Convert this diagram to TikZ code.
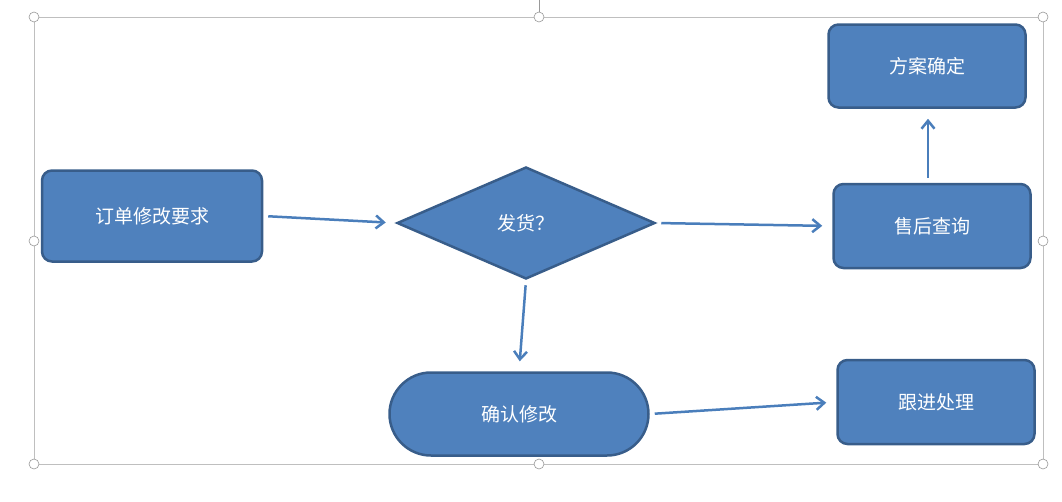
\documentclass[tikz,border=0pt]{standalone}
\usepackage{fontspec}
\setmainfont{Noto Sans CJK SC}
\usetikzlibrary{shapes.geometric,shapes.misc,arrows.meta}
\definecolor{boxfill}{RGB}{79,129,189}
\definecolor{boxline}{RGB}{56,93,138}
\definecolor{arrowblue}{RGB}{74,126,187}
\tikzset{
  flowbox/.style={draw=boxline,fill=boxfill,line width=2.5pt,rounded corners=10pt,
    text=white,font=\fontsize{19}{22}\selectfont,inner sep=0pt},
  flowdiam/.style={diamond,draw=boxline,fill=boxfill,line width=2.5pt,aspect=2.3,
    text=white,font=\fontsize{19}{22}\selectfont,inner sep=0pt},
  flowterm/.style={rounded rectangle,draw=boxline,fill=boxfill,line width=2.5pt,
    text=white,font=\fontsize{19}{22}\selectfont,inner sep=0pt},
  flowarrow/.style={draw=arrowblue,line width=2.5pt,-{Straight Barb[length=8pt,width=13pt]},
    shorten <=5pt,shorten >=10pt},
  handle/.style={circle,draw=gray!80,fill=white,line width=0.6pt,minimum size=10pt,inner sep=0pt}
}
\begin{document}
\begin{tikzpicture}[x=1pt,y=-1pt]
\useasboundingbox (0,0) rectangle (1062,501);
% selection frame
\draw[gray!50,line width=0.6pt] (34,17) rectangle (1043,464);
\draw[gray!80,line width=0.6pt] (539,0) -- (539,17);
\foreach \hx/\hy [count=\i] in {34/17,539/17,1043/17,34/241,1043/241,34/464,539/464,1043/464}
  \node[handle] (h\i) at (\hx,\hy) {};
% shapes
\node[flowbox,minimum width=220pt,minimum height=91pt] (req) at (152,216) {订单修改要求};
\node[flowdiam,minimum width=258pt,minimum height=112pt] (ship) at (526,223) {发货？};
\node[flowterm,minimum width=259pt,minimum height=83pt] (confirm) at (519,414) {确认修改};
\node[flowbox,minimum width=197pt,minimum height=84pt] (after) at (932,226) {售后查询};
\node[flowbox,minimum width=197pt,minimum height=83pt] (plan) at (927,66) {方案确定};
\node[flowbox,minimum width=197pt,minimum height=84pt] (follow) at (936,402) {跟进处理};
% connectors
\draw[flowarrow] (req.east) -- (ship.west);
\draw[flowarrow] (ship.east) -- (after.west);
\draw[flowarrow] (ship.south) -- (confirm.north);
\draw[flowarrow] (after.north -| 928,0) -- (plan.south -| 928,0);
\draw[flowarrow] (confirm.east) -- (follow.west);
\end{tikzpicture}
\end{document}
